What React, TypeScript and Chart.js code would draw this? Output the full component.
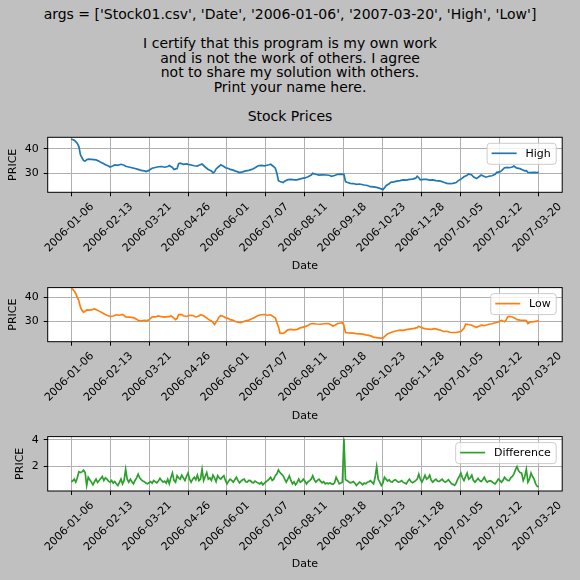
import React, { useEffect, useRef } from "react";
import { Chart, registerables } from "chart.js";

Chart.register(...registerables);

// ---------- data ----------
const headerLines = [
  "args = ['Stock01.csv', 'Date', '2006-01-06', '2007-03-20', 'High', 'Low']",
  "",
  "I certify that this program is my own work",
  "and is not the work of others. I agree",
  "not to share my solution with others.",
  "Print your name here.",
  "",
  "Stock Prices",
];

const tickIndex = [0, 25, 50, 75, 100, 125, 150, 175, 200, 225, 250, 275, 300];
const tickDates = [
  "2006-01-06", "2006-02-13", "2006-03-21", "2006-04-26", "2006-06-01", "2006-07-07",
  "2006-08-11", "2006-09-18", "2006-10-23", "2006-11-28", "2007-01-05", "2007-02-12", "2007-03-20",
];

const highPoints: [number, number][] = [
  [0,44.1],[2,43.6],[3,43.0],[4,42.3],[5,41.0],[6,37.6],[7,36.4],[8,35.2],[9,35.0],[10,35.6],[11,35.8],[13,35.7],[16,35.5],[18,35.0],[19,34.5],[21,33.9],[22,33.5],[24,33.0],[25,32.6],[27,33.1],[28,33.5],[30,33.3],[32,33.7],[34,33.3],[35,32.9],[37,32.6],[39,32.3],[41,32.0],[43,31.6],[45,31.2],[47,31.0],[48,30.7],[50,31.2],[51,31.7],[52,32.1],[54,32.4],[56,32.7],[58,32.8],[60,32.5],[62,32.8],[63,33.2],[65,32.4],[66,31.6],[68,32.0],[69,34.0],[70,34.2],[72,33.7],[74,33.9],[75,33.7],[77,33.4],[79,33.1],[81,33.0],[82,33.3],[84,33.8],[86,32.6],[88,31.6],[90,31.0],[91,30.2],[92,30.6],[93,31.8],[95,32.9],[96,33.5],[98,32.8],[99,32.3],[101,32.0],[102,31.6],[104,31.3],[105,31.0],[107,30.6],[108,30.3],[110,30.6],[112,31.0],[114,31.2],[116,31.6],[118,32.3],[120,33.1],[122,33.3],[124,33.1],[125,33.2],[127,33.5],[128,33.7],[130,32.7],[131,32.1],[132,30.0],[133,27.0],[134,26.6],[136,26.2],[137,26.8],[139,27.4],[141,27.5],[143,27.3],[145,27.3],[147,27.7],[149,28.0],[150,28.1],[152,28.6],[154,29.3],[155,30.0],[157,29.6],[159,29.3],[161,29.4],[164,29.3],[166,29.1],[167,28.8],[169,29.1],[171,29.6],[173,29.7],[175,29.6],[176,26.6],[177,26.3],[179,25.9],[181,25.8],[183,25.5],[185,25.6],[188,25.2],[190,25.0],[192,24.5],[194,24.4],[196,24.2],[198,23.8],[200,23.3],[201,24.0],[202,24.9],[204,25.7],[205,26.3],[207,26.5],[209,26.8],[211,27.0],[213,27.3],[215,27.2],[217,27.5],[219,27.6],[221,28.0],[222,28.8],[223,28.2],[224,27.3],[226,27.5],[228,27.5],[230,27.2],[232,27.3],[234,27.0],[237,26.8],[239,26.3],[241,25.9],[243,25.8],[245,25.9],[247,26.2],[248,26.8],[250,27.6],[252,28.6],[254,29.2],[255,29.7],[257,29.3],[258,28.6],[260,27.9],[261,28.3],[263,29.3],[264,29.0],[266,28.4],[268,28.8],[270,29.0],[272,29.6],[273,30.4],[275,30.6],[276,31.0],[277,31.6],[278,32.3],[280,32.4],[281,32.3],[283,32.6],[284,33.0],[285,32.5],[286,32.1],[288,31.9],[289,31.6],[291,31.0],[292,31.1],[293,30.4],[295,30.3],[297,30.4],[299,30.3],[300,30.4],
];

const lowPoints: [number, number][] = [
  [0,43.6],[1,43.3],[2,42.6],[3,41.6],[4,40.0],[5,38.5],[6,35.9],[7,34.6],[8,33.9],[9,34.2],[10,34.8],[12,34.7],[14,35.0],[15,35.2],[17,34.7],[18,34.3],[20,33.6],[21,33.2],[23,32.6],[25,32.1],[27,32.3],[29,32.8],[31,32.6],[33,32.9],[34,32.5],[35,31.9],[37,31.8],[40,31.6],[42,31.0],[43,30.5],[45,30.3],[47,30.5],[49,30.4],[50,30.8],[51,31.3],[52,31.9],[54,31.9],[56,32.3],[58,32.0],[60,31.8],[61,31.9],[63,32.0],[64,32.4],[66,31.4],[67,30.8],[68,31.3],[69,32.9],[71,32.9],[72,32.4],[74,32.1],[76,32.6],[78,32.5],[80,31.9],[82,32.3],[83,32.8],[85,32.4],[86,31.9],[88,31.0],[89,30.5],[90,30.3],[91,29.6],[92,28.8],[93,29.8],[94,30.8],[95,32.0],[96,32.5],[98,32.0],[99,31.6],[101,31.2],[102,30.8],[104,30.5],[105,30.1],[107,29.8],[109,29.6],[110,29.8],[112,30.3],[114,30.6],[116,31.2],[118,31.8],[120,32.5],[122,32.8],[124,32.9],[126,32.6],[128,32.8],[130,31.9],[131,31.5],[132,29.5],[133,27.9],[134,25.2],[136,25.1],[137,25.5],[139,26.6],[141,26.8],[143,26.6],[145,26.8],[147,27.4],[150,27.9],[152,28.4],[153,28.9],[155,29.2],[157,29.0],[160,28.9],[162,29.1],[165,29.2],[167,28.6],[168,28.1],[170,28.8],[171,29.2],[173,29.4],[174,29.5],[175,28.5],[176,25.5],[178,25.3],[181,25.2],[183,25.0],[185,24.9],[187,24.8],[189,24.5],[191,24.3],[193,23.9],[194,23.6],[196,23.4],[198,23.2],[200,23.2],[201,23.8],[203,24.9],[205,25.5],[207,25.9],[209,26.2],[211,26.5],[213,26.4],[216,26.8],[218,27.0],[220,27.2],[222,27.5],[223,28.1],[224,27.8],[226,27.2],[228,27.0],[231,26.8],[233,27.1],[235,26.8],[237,26.4],[239,25.9],[241,26.0],[243,25.6],[245,25.5],[247,25.5],[250,25.9],[252,27.2],[253,28.9],[255,28.8],[257,28.5],[259,27.9],[260,27.6],[262,28.2],[263,28.5],[265,28.3],[268,28.9],[270,29.1],[272,29.5],[274,29.8],[276,30.5],[278,29.9],[279,30.6],[280,31.9],[281,32.1],[283,31.9],[285,31.3],[286,30.8],[288,30.6],[291,30.5],[292,30.4],[293,29.2],[294,29.6],[295,29.9],[297,30.0],[300,30.3],
];

const diffValues: number[] = [
  0.81,0.85,1.0,0.77,1.1,1.56,1.5,1.55,1.68,1.5,0.52,1.14,0.95,0.77,0.57,0.8,1.0,0.75,0.89,1.05,
  1.2,0.89,1.1,1.0,0.85,0.77,0.9,0.7,0.81,0.65,0.52,0.75,1.0,0.64,0.9,1.75,1.0,0.77,1.0,0.8,
  0.64,0.9,1.1,1.38,1.1,0.96,0.85,0.81,0.7,0.64,0.72,0.81,0.7,0.89,0.8,0.72,0.85,1.06,0.9,0.77,
  0.85,0.7,1.0,0.64,1.1,1.46,0.9,0.77,1.26,1.1,1.0,1.3,1.1,0.89,1.2,1.46,1.0,0.77,1.0,1.14,
  0.95,1.3,0.89,1.0,1.75,0.89,1.2,1.5,1.0,1.1,0.9,1.3,1.1,0.81,1.26,1.1,1.0,1.15,1.26,0.9,
  0.64,0.85,1.0,0.9,0.77,0.95,1.14,0.9,0.72,0.85,0.95,1.0,0.8,0.77,0.9,0.89,0.75,0.72,0.85,0.77,
  0.7,0.64,0.75,0.57,0.7,0.8,0.89,1.0,1.14,0.9,1.0,1.26,1.4,1.7,1.5,1.38,1.26,1.0,0.77,1.0,
  1.26,0.9,0.64,0.8,0.57,0.75,1.0,0.77,0.85,1.0,0.85,0.64,0.8,0.89,1.0,1.26,0.95,0.77,0.9,1.0,
  0.85,0.72,0.8,0.64,0.7,0.64,0.7,0.64,0.6,0.72,1.14,0.9,0.64,0.7,0.77,4.1,0.95,0.89,0.8,0.72,
  0.75,0.81,0.7,0.52,0.65,0.77,0.7,0.57,0.7,0.65,0.77,0.8,0.89,0.75,0.64,1.14,1.95,1.0,0.77,0.52,
  0.7,1.14,1.0,0.85,0.96,0.8,0.77,0.9,0.96,0.85,0.77,0.8,0.89,0.75,0.7,0.64,0.85,1.0,0.8,0.72,
  0.8,0.89,1.0,1.38,1.0,0.77,1.0,1.3,1.0,1.1,1.3,0.9,0.77,0.9,1.0,0.85,0.81,0.9,1.0,0.85,
  0.77,0.85,0.96,0.8,0.64,0.6,0.52,0.7,1.0,1.2,1.46,1.1,0.89,1.2,1.46,1.0,1.1,1.3,0.9,0.77,
  0.9,1.06,0.9,0.81,0.95,1.14,0.9,0.77,0.85,0.89,0.8,0.7,0.64,0.8,1.0,0.9,0.77,0.9,1.14,1.0,
  0.9,0.89,1.1,1.2,1.38,1.7,1.95,1.63,1.5,1.46,0.89,1.2,1.75,0.77,1.0,1.46,1.2,1.0,0.64,0.45,
  0.4,
];

const diffPoints: [number, number][] = diffValues.map((v, i) => [i, v]);

// ---------- layout / style ----------
const FONT = '"DejaVu Sans", "Liberation Sans", sans-serif';
const BG = "#c0c0c0";

type Spec = {
  points: [number, number][];
  color: string;
  label: string;
  yMin: number;
  yMax: number;
  yTicks: number[];
  canvasTop: number;
  height: number;
  padTop: number;
  xAxisH: number;
  yTitlePad: number;
};

const specs: Spec[] = [
  { points: highPoints, color: "#1f77b4", label: "High", yMin: 22.2, yMax: 44.8, yTicks: [30, 40],
    canvasTop: 125, height: 148, padTop: 12.3, xAxisH: 80.7, yTitlePad: 6.1 },
  { points: lowPoints, color: "#ff7f0e", label: "Low", yMin: 21.7, yMax: 44.0, yTicks: [30, 40],
    canvasTop: 276, height: 147, padTop: 10, xAxisH: 81.3, yTitlePad: 6.1 },
  { points: diffPoints, color: "#2ca02c", label: "Difference", yMin: 0.096, yMax: 4.24, yTicks: [2, 4],
    canvasTop: 425, height: 146, padTop: 10, xAxisH: 80, yTitlePad: 13.4 },
];

const AREA_LEFT = 47.7;
const AREA_RIGHT = 562.2;

const framePlugin = {
  id: "mplFrame",
  beforeDraw(chart: any) {
    const { ctx, chartArea: a } = chart;
    ctx.save();
    ctx.fillStyle = "#ffffff";
    ctx.fillRect(a.left, a.top, a.right - a.left, a.bottom - a.top);
    ctx.restore();
  },
  afterDraw(chart: any, _args: any, opts: any) {
    const { ctx, chartArea: a } = chart;
    ctx.save();
    ctx.strokeStyle = "#000000";
    ctx.lineWidth = 1;
    ctx.strokeRect(a.left, a.top, a.right - a.left, a.bottom - a.top);

    // legend
    ctx.font = `11px ${FONT}`;
    const tw = ctx.measureText(opts.label).width;
    const pad = 4.5, lineLen = 25, gap = 8.8;
    const boxW = pad + lineLen + gap + tw + pad + 1;
    const boxH = 21;
    const bx = a.right - 6 - boxW;
    const by = a.top + 6;
    ctx.beginPath();
    (ctx as any).roundRect(bx, by, boxW, boxH, 3);
    ctx.fillStyle = "rgba(255,255,255,0.8)";
    ctx.fill();
    ctx.strokeStyle = "#cccccc";
    ctx.lineWidth = 1;
    ctx.stroke();
    const cy = by + boxH / 2;
    ctx.beginPath();
    ctx.moveTo(bx + pad, cy - 0.5);
    ctx.lineTo(bx + pad + lineLen, cy - 0.5);
    ctx.strokeStyle = opts.color;
    ctx.lineWidth = 1.7;
    ctx.stroke();
    ctx.fillStyle = "#000000";
    ctx.textBaseline = "middle";
    ctx.textAlign = "left";
    ctx.fillText(opts.label, bx + pad + lineLen + gap, cy);
    ctx.restore();
  },
};

function PlotPanel({ spec }: { spec: Spec }) {
  const ref = useRef<HTMLCanvasElement | null>(null);
  useEffect(() => {
    if (!ref.current) return;
    const chart = new Chart(ref.current, {
      type: "line",
      data: {
        datasets: [
          {
            label: spec.label,
            data: spec.points.map(([x, y]) => ({ x, y })),
            borderColor: spec.color,
            borderWidth: 1.7,
            pointRadius: 0,
            fill: false,
            tension: 0,
          },
        ],
      },
      options: {
        responsive: false,
        animation: false,
        events: [],
        layout: { padding: { top: spec.padTop, left: 0, right: 580 - AREA_RIGHT, bottom: 0 } },
        plugins: {
          legend: { display: false },
          tooltip: { enabled: false },
          mplFrame: { label: spec.label, color: spec.color },
        } as any,
        scales: {
          x: {
            type: "linear",
            min: -15,
            max: 315,
            afterBuildTicks: (scale: any) => {
              scale.ticks = tickIndex.map((v) => ({ value: v }));
            },
            afterFit: (scale: any) => {
              scale.height = spec.xAxisH;
            },
            ticks: {
              autoSkip: false,
              minRotation: 45,
              maxRotation: 45,
              labelOffset: 21,
              padding: 4,
              color: "#000",
              font: { family: FONT, size: 11 },
              callback: (value: any) => {
                const i = tickIndex.indexOf(Number(value));
                return i >= 0 ? tickDates[i] : "";
              },
            },
            grid: { color: "#b0b0b0", lineWidth: 1, tickColor: "#000", tickLength: 4, drawTicks: true },
            border: { display: false },
            title: {
              display: true,
              text: "Date",
              color: "#000",
              font: { family: FONT, size: 11 },
              padding: { top: 0, bottom: 0 },
            },
          },
          y: {
            type: "linear",
            min: spec.yMin,
            max: spec.yMax,
            afterBuildTicks: (scale: any) => {
              scale.ticks = spec.yTicks.map((v) => ({ value: v }));
            },
            afterFit: (scale: any) => {
              scale.width = AREA_LEFT;
            },
            ticks: {
              padding: 5,
              color: "#000",
              font: { family: FONT, size: 11 },
              callback: (value: any) => String(value),
            },
            grid: { color: "#b0b0b0", lineWidth: 1, tickColor: "#000", tickLength: 4, drawTicks: true },
            border: { display: false },
            title: {
              display: true,
              text: "PRICE",
              color: "#000",
              font: { family: FONT, size: 11 },
              padding: { top: spec.yTitlePad, bottom: 0 },
            },
          },
        },
      },
      plugins: [framePlugin as any],
    });
    return () => chart.destroy();
  }, [spec]);

  return (
    <canvas
      ref={ref}
      width={580}
      height={spec.height}
      style={{ position: "absolute", left: 0, top: spec.canvasTop, width: 580, height: spec.height }}
    />
  );
}

export default function App() {
  return (
    <div
      style={{
        position: "absolute",
        left: 0,
        top: 0,
        width: 580,
        height: 580,
        background: BG,
        overflow: "hidden",
      }}
    >
      <div
        style={{
          position: "absolute",
          left: 0,
          top: 7,
          width: 580,
          textAlign: "center",
          fontFamily: FONT,
          fontSize: 14,
          lineHeight: "14.57px",
          whiteSpace: "pre",
          color: "#000",
        }}
      >
        {headerLines.join("\n")}
      </div>
      {specs.map((s) => (
        <PlotPanel key={s.label} spec={s} />
      ))}
    </div>
  );
}
